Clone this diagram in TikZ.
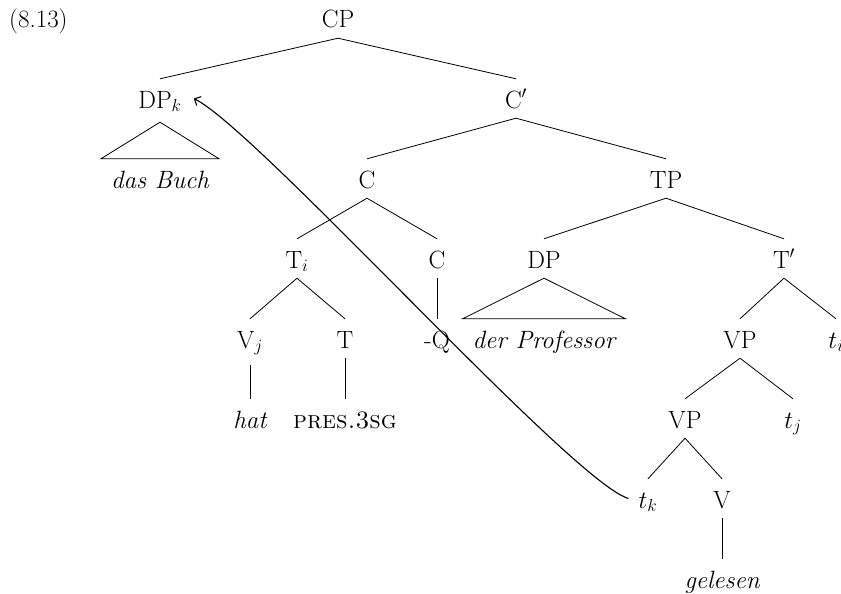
\documentclass[tikz,border=0pt]{standalone}
\usetikzlibrary{arrows.meta}
\begin{document}
\begin{tikzpicture}[x=1pt,y=-1pt,
  lab/.style={inner sep=6pt,text height=23pt,text depth=4pt,font=\fontsize{25}{30}\selectfont},
  leaf/.style={lab,inner xsep=10pt},
  edge/.style={line width=0.8pt},
  mv/.style={line width=1.1pt,{Straight Barb[length=5pt,width=10pt]}-}]
\useasboundingbox (0,0) rectangle (841,594);
\node[lab,anchor=base west] (ex) at (3,28) {(8.13)};
\node[lab] (CP) at (338,18.5) {CP};
\node[lab] (DPk) at (160,98.5) {DP$_k$};
\node[lab] (Cbar) at (516,98.5) {C$'$};
\node[leaf] (buch) at (160,178.5) {\itshape das Buch};
\node[lab] (C) at (367,178.5) {C};
\node[lab] (TP) at (666,178.5) {TP};
\node[lab] (Ti) at (297,258.5) {T$_i$};
\node[lab] (C2) at (437,258.5) {C};
\node[lab] (DP) at (544,258.5) {DP};
\node[lab] (Tbar) at (784,258.5) {T$'$};
\node[lab] (Vj) at (250,338.5) {V$_j$};
\node[lab] (T) at (345,338.5) {T};
\node[lab] (Q) at (437,338.5) {-Q};
\node[leaf] (prof) at (544,338.5) {\itshape der Professor};
\node[lab] (VP1) at (740,338.5) {VP};
\node[lab] (ti) at (836,338.5) {$t_i$};
\node[lab] (hat) at (250,418.5) {\itshape hat};
\node[lab] (pres) at (345,418.5) {\textsc{pres.3sg}};
\node[lab] (VP2) at (685,418.5) {VP};
\node[lab] (tj) at (793,418.5) {$t_j$};
\node[lab] (tk) at (648,498.5) {$t_k$};
\node[lab] (V) at (722,498.5) {V};
\node[lab] (gel) at (722,578.5) {\itshape gelesen};
\draw[edge] (CP.south) -- (DPk.north);
\draw[edge] (CP.south) -- (Cbar.north);
\draw[edge] ([yshift=-4pt]DPk.south) -- (buch.north west) -- (buch.north east) -- cycle;
\draw[edge] (Cbar.south) -- (C.north);
\draw[edge] (Cbar.south) -- (TP.north);
\draw[edge] (C.south) -- (Ti.north);
\draw[edge] (C.south) -- (C2.north);
\draw[edge] (TP.south) -- (DP.north);
\draw[edge] (TP.south) -- (Tbar.north);
\draw[edge] (Ti.south) -- (Vj.north);
\draw[edge] (Ti.south) -- (T.north);
\draw[edge] (C2.south) -- (Q.north);
\draw[edge] (DP.south) -- (prof.north west) -- (prof.north east) -- cycle;
\draw[edge] (Tbar.south) -- (VP1.north);
\draw[edge] (Tbar.south) -- (ti.north);
\draw[edge] ([yshift=-7pt]Vj.south) -- (hat.north);
\draw[edge] (T.south) -- (pres.north);
\draw[edge] (VP1.south) -- (VP2.north);
\draw[edge] (VP1.south) -- (tj.north);
\draw[edge] (VP2.south) -- (tk.north);
\draw[edge] (VP2.south) -- (V.north);
\draw[edge] (V.south) -- (gel.north);
\draw[mv] ([xshift=6pt]DPk.east) .. controls +(64,32) and +(-57,-17) .. ([xshift=-4pt]tk.west);
\end{tikzpicture}
\end{document}
